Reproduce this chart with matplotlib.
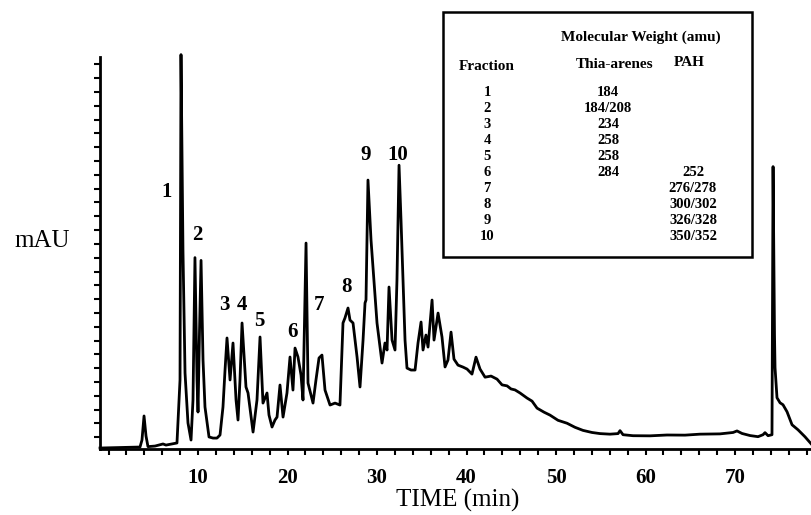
import numpy as np
import matplotlib.pyplot as plt
from matplotlib.ticker import MultipleLocator, FixedLocator
from matplotlib.patches import Rectangle

# chromatogram trace (time in min, absorbance in arbitrary mAU units)
time_min = [-0.95, 3.52, 3.74, 3.97, 4.19, 4.41, 5.2, 6.09, 6.42, 7.09, 7.65, 7.88, 7.99,
            8.1, 8.32, 8.55, 8.88, 9.22, 9.44, 9.66, 9.89, 10.0, 10.17, 10.34, 10.56, 10.78,
            11.23, 11.68, 12.12, 12.46, 12.79, 13.02, 13.24, 13.58, 13.91, 14.25, 14.47,
            14.69, 14.92, 15.36, 15.59, 16.15, 16.59, 16.93, 17.26, 17.49, 17.71, 17.93,
            18.27, 18.6, 18.83, 19.16, 19.5, 19.94, 20.28, 20.61, 20.84, 21.17, 21.51,
            21.73, 22.07, 22.29, 22.63, 22.85, 23.18, 23.52, 23.85, 24.19, 24.75, 25.31,
            25.86, 26.2, 26.42, 26.76, 26.98, 27.32, 27.77, 28.1, 28.44, 28.66, 28.77,
            28.99, 29.33, 29.55, 30.0, 30.56, 30.89, 31.12, 31.34, 31.68, 32.01, 32.23,
            32.46, 32.68, 32.91, 33.13, 33.35, 33.8, 34.25, 34.58, 34.92, 35.14, 35.47,
            35.7, 36.15, 36.37, 36.82, 37.26, 37.6, 37.93, 38.27, 38.6, 39.05, 39.61,
            40.06, 40.61, 41.06, 41.51, 42.07, 42.74, 43.41, 43.97, 44.53, 44.97, 45.42,
            45.98, 46.76, 47.32, 47.88, 48.66, 49.33, 50.22, 51.23, 52.12, 53.01, 54.02,
            54.92, 56.03, 56.93, 57.15, 57.49, 58.6, 60.5, 62.4, 64.41, 66.09, 68.32,
            69.78, 70.22, 70.78, 71.68, 72.57, 73.13, 73.35, 73.69, 74.13, 74.25, 74.41,
            74.47, 74.69, 75.03, 75.36, 75.81, 76.37, 77.04, 77.82, 78.6]
mau = [0.0, 0.07, 0.57, 2.29, 0.86, 0.1, 0.14, 0.29, 0.21, 0.29, 0.36, 3.43, 4.86,
       28.1, 14.1, 5.36, 1.79, 0.57, 3.43, 13.6, 4.86, 2.57, 8.43, 13.4, 6.29, 2.93,
       0.79, 0.71, 0.71, 0.93, 2.93, 5.57, 7.86, 4.86, 7.5, 3.43, 2.0,
       4.86, 8.93, 4.36, 3.93, 1.14, 3.43, 7.93, 3.21, 3.57, 3.93, 2.36,
       1.5, 2.0, 2.21, 4.5, 2.21, 3.93, 6.5, 4.14, 7.14, 6.5, 5.21,
       3.43, 14.64, 4.64, 3.79, 3.21, 4.86, 6.43, 6.64, 4.14, 3.07, 3.21,
       3.07, 8.93, 9.29, 10.0, 9.14, 8.93, 6.5, 4.36, 7.71, 10.36, 10.57,
       19.14, 14.86, 12.93, 8.93, 6.07, 7.5, 7.0, 11.5, 7.71, 7.0, 12.0,
       20.2, 16.3, 11.8, 7.71, 5.71, 5.57, 5.57, 7.5, 9.0, 7.0, 8.07,
       7.21, 10.57, 7.71, 9.64, 7.93, 5.79, 6.29, 8.28, 6.35, 5.92, 5.78,
       5.64, 5.28, 6.49, 5.64, 5.06, 5.14, 4.92, 4.51, 4.44, 4.22, 4.15,
       3.93, 3.57, 3.35, 2.85, 2.56, 2.35, 1.98, 1.77, 1.48, 1.26, 1.11,
       1.03, 0.99, 1.03, 1.24, 0.95, 0.88, 0.87, 0.93, 0.92, 0.99, 1.01,
       1.11, 1.22, 1.04, 0.89, 0.81, 0.95, 1.1, 0.88, 0.95, 20.1, 8.09,
       5.73, 3.59, 3.23, 3.09, 2.59, 1.66, 1.3, 0.8, 0.23]

peak_names = ["1", "2", "3", "4", "5", "6", "7", "8", "9", "10"]

# inset table
fractions = ["1", "2", "3", "4", "5", "6", "7", "8", "9", "10"]
thia_arenes = ["184", "184/208", "234", "258", "258", "284", "", "", "", ""]
pah = ["", "", "", "", "", "252", "276/278", "300/302", "326/328", "350/352"]

plt.rcParams['font.family'] = ['Liberation Serif', 'DejaVu Serif']

W, H = 812, 515
fig = plt.figure(figsize=(W / 100, H / 100), dpi=100)
ax = fig.add_axes([100 / W, (H - 449) / H, 712 / W, 392 / H])

ax.plot(time_min, mau, color='black', lw=2.0, clip_on=False)
ax.set_xlim(-0.95, 78.6)
ax.set_ylim(-0.07, 27.93)

for s in ['top', 'right']:
    ax.spines[s].set_visible(False)
for s in ['left', 'bottom']:
    ax.spines[s].set_linewidth(2)

ax.xaxis.set_major_locator(FixedLocator([10, 20, 30, 40, 50, 60, 70]))
ax.xaxis.set_minor_locator(MultipleLocator(2))
ax.yaxis.set_major_locator(FixedLocator(np.arange(1, 29) * 0.986 - 0.21))
ax.set_yticklabels([])
ax.tick_params(axis='x', which='both', direction='out', length=4, width=1.5, pad=10,
               labelsize=15)
ax.tick_params(axis='y', direction='out', length=4, width=1.5)
for lab in ax.get_xticklabels():
    lab.set_fontweight('bold')

fig.text(458 / W, 1 - 500 / H, "TIME (min)", fontsize=18, ha='center', va='center')
fig.text(42 / W, 1 - 241 / H, "mAU", fontsize=18, ha='center', va='center')

# peak numbers
label_pos = [(6.44, 18.3), (9.89, 15.2), (13.0, 10.2), (14.9, 10.2), (16.9, 9.1),
             (20.6, 8.3), (23.5, 10.2), (26.6, 11.5), (28.7, 20.9), (32.3, 20.9)]
for name, (tx, ty) in zip(peak_names, label_pos):
    ax.text(tx, ty, name, fontsize=15, fontweight='bold', ha='center', va='center')

# table box
def fx(x):
    return x / W

def fy(y):
    return 1 - y / H

fig.add_artist(Rectangle((fx(443), fy(257)), 309 / W, 245 / H, transform=fig.transFigure,
                         facecolor='white', edgecolor='black', lw=1.8))
tkw = dict(fontsize=11, fontweight='bold', va='center')
fig.text(fx(641), fy(37), "Molecular Weight (amu)", ha='center', **tkw)
fig.text(fx(487), fy(67), "Fraction", ha='center', **tkw)
fig.text(fx(615), fy(64), "Thia-arenes", ha='center', **tkw)
fig.text(fx(689), fy(62), "PAH", ha='center', **tkw)
for i in range(len(fractions)):
    yy = fy(92 + 16.1 * i)
    fig.text(fx(487), yy, fractions[i], ha='center', fontsize=10.5, fontweight='bold', va='center')
    fig.text(fx(608), yy, thia_arenes[i], ha='center', fontsize=10.5, fontweight='bold', va='center')
    fig.text(fx(693), yy, pah[i], ha='center', fontsize=10.5, fontweight='bold', va='center')

fig.savefig("out.png", dpi=100, facecolor='white')
